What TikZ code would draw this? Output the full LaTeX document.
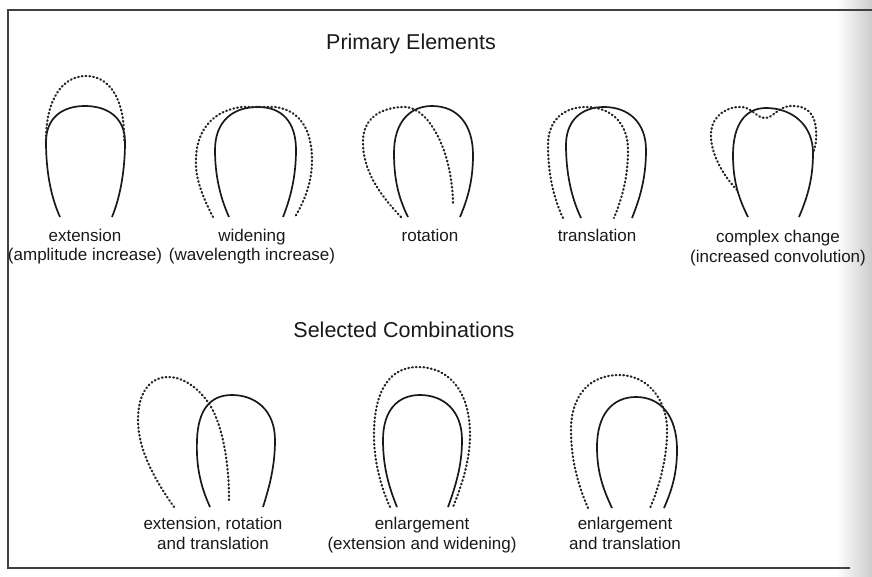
\documentclass[tikz,border=0pt]{standalone}
\usepackage{fontspec}
\setmainfont{Liberation Sans}
\begin{document}
\begin{tikzpicture}[x=1pt,y=-1pt,
  fold/.style={line width=1.7pt, black!90},
  moved/.style={line width=2.2pt, black!85, dash pattern=on 0.8pt off 3pt, line cap=round},
  heading/.style={font=\fontsize{21.5}{24}\selectfont, text=black!90, inner sep=0pt, anchor=base},
  caption/.style={font=\fontsize{17}{19.5}\selectfont, text=black!90, inner sep=0pt, anchor=base, align=center},
  frameline/.style={line width=1.3pt, black!75}]
\useasboundingbox (0,0) rectangle (872,577);
\shade[left color=white, right color=black!20] (836,0) rectangle (872,577);
% frame
\coordinate (f1) at (872,10);
\coordinate (f2) at (8,10);
\coordinate (f3) at (8,568);
\coordinate (f4) at (850,568);
\draw[frameline] (f1) -- (f2) -- (f3) -- (f4);
% headings
\node[heading] (h1) at (411,50) {Primary Elements};
\node[heading] (h2) at (404,337) {Selected Combinations};
% 1 extension
\draw[fold] (60,217) .. controls (50,195) and (46,168) .. (46,142) .. controls (46,118) and (62,106) .. (85,106) .. controls (108,106) and (125,118) .. (125,142) .. controls (125,168) and (121,195) .. (112,217);
\draw[moved] (46,140) .. controls (46,100) and (62,76) .. (86,76) .. controls (110,76) and (125,100) .. (124,140);
\node[caption] (c1) at (85,261) {extension\\(amplitude increase)};
% 2 widening
\draw[fold] (229,217) .. controls (220,197) and (215,175) .. (215,150) .. controls (215,122) and (232,107) .. (258,107) .. controls (282,107) and (296,122) .. (296,150) .. controls (296,175) and (291,197) .. (283,217);
\draw[moved] (213,217) .. controls (200,192) and (195,175) .. (196,158) .. controls (197,128) and (215,110) .. (242,107) -- (275,107) .. controls (300,110) and (312,130) .. (312,160) .. controls (312,185) and (303,203) .. (295,217);
\node[caption] (c2) at (252,261) {widening\\(wavelength increase)};
% 3 rotation
\draw[fold] (408,217) .. controls (398,197) and (394,178) .. (394,153) .. controls (394,122) and (410,106) .. (432,106) .. controls (458,106) and (473,125) .. (473,155) .. controls (473,180) and (468,198) .. (460,217);
\draw[moved] (401,217) .. controls (380,195) and (362,170) .. (363,140) .. controls (364,115) and (385,107) .. (405,107) .. controls (425,108) and (440,135) .. (447,160) .. controls (452,180) and (453,195) .. (453,204);
\node[caption] (c3) at (430,242) {rotation};
% 4 translation
\draw[fold] (581,218) .. controls (571,197) and (566,172) .. (566,145) .. controls (566,120) and (582,107) .. (604,107) .. controls (628,107) and (646,122) .. (646,150) .. controls (646,178) and (640,198) .. (632,218);
\draw[moved, xshift=-18pt] (581,218) .. controls (571,197) and (566,172) .. (566,145) .. controls (566,120) and (582,107) .. (604,107) .. controls (628,107) and (646,122) .. (646,150) .. controls (646,178) and (640,198) .. (632,218);
\node[caption] (c4) at (597,242) {translation};
% 5 complex change
\draw[fold] (748,217) .. controls (738,197) and (733,180) .. (733,155) .. controls (733,125) and (745,108) .. (766,108) .. controls (792,108) and (813,125) .. (813,153) .. controls (813,180) and (807,198) .. (799,217);
\draw[moved] (737,190) .. controls (720,172) and (710,150) .. (711,133) .. controls (712,115) and (728,106) .. (742,107) .. controls (752,108) and (757,118) .. (765,118) .. controls (773,118) and (778,107) .. (790,106) .. controls (805,105) and (815,112) .. (816,130) .. controls (817,140) and (815,148) .. (813,153);
\node[caption] (c5) at (778,262) {complex change\\(increased convolution)};
% 6 extension, rotation and translation
\draw[fold] (210,507) .. controls (200,485) and (196,465) .. (197,440) .. controls (198,410) and (210,395) .. (232,395) .. controls (255,395) and (275,410) .. (275,440) .. controls (275,465) and (270,485) .. (263,507);
\draw[moved] (174,507) .. controls (155,480) and (138,450) .. (138,420) .. controls (138,390) and (152,377) .. (168,377) .. controls (185,377) and (200,390) .. (210,405) .. controls (222,425) and (229,460) .. (229,500);
\node[caption] (c6) at (213,549) {extension, rotation\\and translation};
% 7 enlargement
\draw[fold] (397,507) .. controls (388,485) and (383,465) .. (383,440) .. controls (383,410) and (398,395) .. (420,395) .. controls (443,395) and (462,410) .. (462,440) .. controls (462,465) and (456,485) .. (448,507);
\draw[moved] (390,507) .. controls (380,485) and (374,460) .. (374,435) .. controls (374,390) and (390,367) .. (418,367) .. controls (448,367) and (470,390) .. (470,435) .. controls (470,460) and (462,485) .. (453,507);
\node[caption] (c7) at (422,549) {enlargement\\(extension and widening)};
% 8 enlargement and translation
\draw[fold] (612,508) .. controls (602,487) and (597,470) .. (597,447) .. controls (597,415) and (612,397) .. (636,397) .. controls (660,397) and (677,415) .. (677,450) .. controls (677,475) and (671,492) .. (664,508);
\draw[moved] (588,508) .. controls (578,485) and (571,460) .. (571,430) .. controls (571,395) and (590,375) .. (619,375) .. controls (645,375) and (664,395) .. (667,425) .. controls (668,455) and (660,485) .. (650,508);
\node[caption] (c8) at (625,549) {enlargement\\and translation};
\end{tikzpicture}
\end{document}
